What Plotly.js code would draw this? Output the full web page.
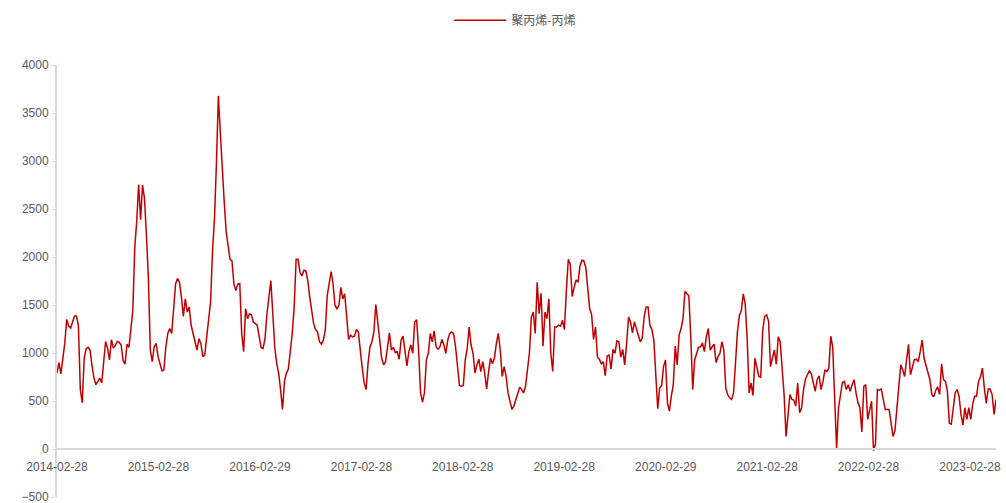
<!DOCTYPE html>
<html>
<head>
<meta charset="utf-8">
<script src="https://cdn.plot.ly/plotly-3.0.1.min.js"></script>
<style>html,body{margin:0;padding:0;background:#fff;}#chart{width:1006px;height:503px;}</style>
</head>
<body>
<div id="chart"></div>
<script>
// Weekly series start date
var startDate = '2014-02-28';
var seriesName = '聚丙烯-丙烯';
// Weekly spread values (聚丙烯-丙烯)
var spreadValues = [
791,900,783,928,1100,1350,1280,1260,1330,1385,
1385,1289,619,481,950,1045,1059,1030,870,740,
670,710,739,688,920,1120,1050,928,1140,1050,
1080,1120,1110,1083,920,883,1093,1059,1250,1443,
2096,2371,2756,2389,2749,2611,2234,1787,1031,910,
1065,1100,962,880,814,825,1065,1203,1255,1203,
1478,1719,1777,1736,1581,1382,1564,1426,1478,1289,
1203,1100,1031,1151,1100,962,979,1168,1350,1529,
2060,2400,2970,3678,3299,2870,2578,2268,2100,1976,
1959,1719,1650,1719,1725,1203,1014,1461,1358,1409,
1399,1323,1306,1289,1168,1055,1048,1151,1409,1600,
1753,1409,1065,894,791,619,412,704,791,832,
997,1203,1478,1976,1976,1838,1804,1863,1856,1753,
1581,1461,1306,1244,1220,1117,1093,1134,1237,1598,
1719,1849,1719,1495,1461,1495,1684,1564,1616,1375,
1141,1186,1168,1175,1244,1220,997,842,688,619,
894,1065,1117,1220,1505,1340,1134,945,876,910,
1065,1210,1031,1059,1003,1014,935,1134,1175,1031,
866,1014,1083,997,1323,1347,1031,584,488,584,
928,997,1203,1117,1230,1065,1038,1065,1141,1083,
997,1134,1203,1220,1203,1065,894,663,653,663,
928,1048,1271,1083,997,791,876,935,807,910,
791,626,807,945,887,945,1100,1203,1031,756,
859,756,584,488,412,447,516,584,643,619,
584,653,807,1000,1375,1426,1203,1736,1409,1622,
1072,1426,1358,1564,997,807,1271,1271,1289,1279,
1340,1244,1650,1976,1925,1588,1684,1760,1736,1907,
1966,1959,1890,1684,1461,1400,1141,1271,956,935,
887,910,763,969,979,832,1038,997,1127,1117,
956,1038,876,1100,1375,1323,1210,1323,1255,1203,
1117,1151,1375,1478,1478,1289,1244,1134,756,420,
636,660,859,928,481,395,550,670,1072,876,
1186,1255,1358,1643,1616,1598,1168,619,928,997,
1059,1065,1106,1014,1168,1255,1031,1065,1093,900,
962,997,1117,1031,636,567,533,516,584,894,
1220,1392,1443,1616,1512,1151,584,688,557,945,
859,756,749,1237,1382,1399,1333,859,945,1031,
883,1168,1117,859,567,131,378,567,516,509,
447,688,378,430,619,729,773,814,784,688,
601,722,763,619,704,825,807,842,1175,1065,
481,7,430,550,694,704,619,670,601,670,
722,584,481,430,178,653,670,309,395,498,
-17,52,619,612,626,516,412,412,412,275,
131,189,430,704,876,825,756,928,1090,773,
842,928,935,910,1014,1134,945,876,807,722,
567,543,612,646,567,887,722,704,600,268,
258,447,584,619,550,361,248,430,309,430,
309,464,550,550,704,749,842,636,474,626,
626,567,361,516
];
var xTickVals = ['2014-02-28','2015-02-28','2016-02-29','2017-02-28','2018-02-28','2019-02-28','2020-02-29','2021-02-28','2022-02-28','2023-02-28'];
var xTickText = ['2014-02-28','2015-02-28','2016-02-29','2017-02-28','2018-02-28','2019-02-28','2020-02-29','2021-02-28','2022-02-28','2023-02-28'];
var yTickVals = [-500,0,500,1000,1500,2000,2500,3000,3500,4000];

function weeklyDates(start, n) {
  var p = start.split('-');
  var t0 = Date.UTC(+p[0], +p[1]-1, +p[2]);
  var out = [];
  for (var i = 0; i < n; i++) {
    var d = new Date(t0 + i*7*86400000);
    out.push(d.toISOString().slice(0,10));
  }
  return out;
}
var dates = weeklyDates(startDate, spreadValues.length);

var trace = {
  x: dates, y: spreadValues, type: 'scatter', mode: 'lines', name: seriesName,
  line: {color: '#c00000', width: 1.5}
};
var layout = {
  width: 1006, height: 503,
  margin: {l: 57, r: 10, t: 62, b: 6},
  paper_bgcolor: '#ffffff', plot_bgcolor: '#ffffff',
  showlegend: true,
  legend: {orientation: 'h', x: 0.488, xanchor: 'center', y: 1.1034, yanchor: 'middle',
           font: {family: 'Noto Sans CJK SC', size: 12, color: '#595959'}, itemwidth: 52},
  xaxis: {
    type: 'date', range: [dates[0], dates[dates.length-1]],
    tickmode: 'array', tickvals: xTickVals, ticktext: xTickText,
    anchor: 'free', position: 500/4500,
    showline: true, linecolor: '#d9d9d9', linewidth: 2,
    showgrid: false, zeroline: false, ticks: '', ticklabelstandoff: 7,
    ticklabeloverflow: 'allow',
    tickfont: {family: 'Liberation Sans, Arial', size: 12, color: '#595959'}
  },
  yaxis: {
    range: [-500, 4000], tickmode: 'array', tickvals: yTickVals,
    showline: true, linecolor: '#d9d9d9', linewidth: 2,
    ticks: 'outside', ticklen: 4, tickcolor: '#d9d9d9', tickwidth: 1,
    showgrid: false, zeroline: false, ticklabeloverflow: 'allow',
    tickfont: {family: 'Liberation Sans, Arial', size: 12, color: '#595959'}
  }
};
Plotly.newPlot('chart', [trace], layout, {displayModeBar: false, staticPlot: true});
</script>
</body>
</html>
